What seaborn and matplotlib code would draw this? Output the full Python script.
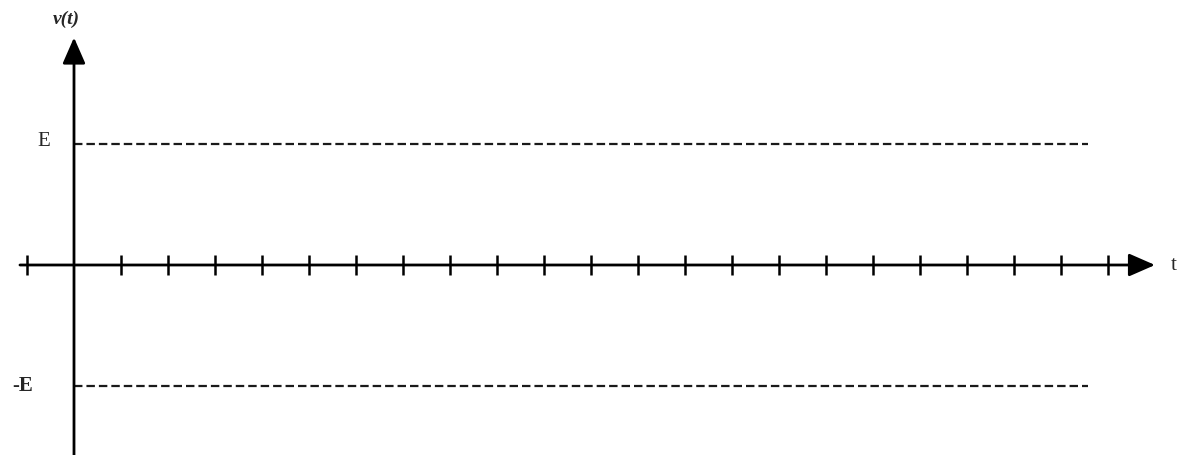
import numpy as np
import pandas as pd
import matplotlib
matplotlib.use("Agg")
import matplotlib.pyplot as plt
import seaborn as sns

# chart values (x in tick units, y in units of E)
tick_positions = list(range(-1, 23))
level_values = [1, -1]
level_labels = ["E", "-E"]
dash_start, dash_end = 0.0, 21.57
t_axis_start, t_axis_end = -1.15, 23.0
v_axis_bottom, v_axis_top = -1.7, 1.88

sns.set_style("white")
plt.rcParams['font.family'] = ['Liberation Serif', 'DejaVu Serif']

fig = plt.figure(figsize=(11.82, 4.55), dpi=100)
ax = fig.add_axes([0, 0, 1, 1])
ax.set_xlim(-74 / 47, (1182 - 74) / 47)
ax.set_ylim(-190 / 121, 265 / 121)
ax.axis("off")

# dashed levels at E and -E
levels = pd.DataFrame({
    "x": [dash_start, dash_end] * len(level_values),
    "y": np.repeat(level_values, 2),
    "level": np.repeat(level_labels, 2),
})
sns.lineplot(data=levels, x="x", y="y", units="level", estimator=None,
             color="#1a1a1a", lw=1.6, linestyle=(0, (3.8, 1.8)), ax=ax,
             legend=False)

# axes with arrow heads
arrow = dict(arrowstyle="-|>,head_length=1.6,head_width=0.7",
             lw=2.0, color="black", shrinkA=0, shrinkB=0)
ax.annotate("", xy=(t_axis_end, 0), xytext=(t_axis_start, 0), arrowprops=arrow)
ax.annotate("", xy=(0, v_axis_top), xytext=(0, v_axis_bottom), arrowprops=arrow)

# tick marks along t
ticks = [p for p in tick_positions if p != 0]
ax.vlines(ticks, -0.085, 0.085, color="black", lw=1.8)

# labels
ax.text(-0.64, 1.02, level_labels[0], fontsize=15, ha="center", va="center")
ax.text(-1.09, -1.0, level_labels[1], fontsize=15, ha="center", va="center",
        fontweight="bold")
ax.text(-0.16, 2.03, "v(t)", fontsize=14, style="italic", fontweight="bold",
        ha="center", va="center")
ax.text(23.4, 0.0, "t", fontsize=15, ha="center", va="center")

fig.savefig("out.png", dpi=100)
